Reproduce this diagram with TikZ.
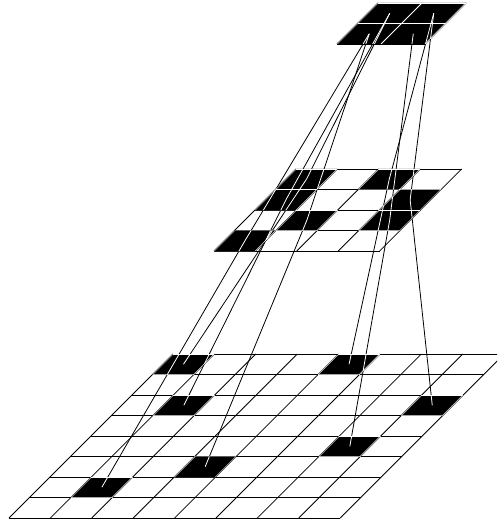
\documentclass[tikz,border=0pt]{standalone}
\begin{document}
\def\CH{20.5}
\tikzset{
  gridline/.style={line width=0.8pt, draw=black},
  link/.style={line width=0.8pt, draw=black},
}
% cell outline as a path fragment: ox, oy, row, col, cell width
\newcommand\cellpath[5]{({#1+#5*#4-\CH*#3},{#2+\CH*#3}) -- ++(#5,0) -- ++(-\CH,\CH) -- ++(-#5,0) -- cycle}
% grid lines: ox, oy, n, cell width
\newcommand\gridlines[4]{%
  \foreach \k in {0,...,#3}{
    \draw[gridline] ({#1-\CH*\k},{#2+\CH*\k}) -- ++({#4*#3},0);
    \draw[gridline] ({#1+#4*\k},{#2}) -- ++({-\CH*#3},{\CH*#3});
  }}
% centres: prefix, ox, oy, n, cell width
\newcommand\centres[5]{%
  \foreach \r in {1,...,#4}{
    \foreach \c in {1,...,#4}{
      \coordinate (#1-\r-\c) at ({#2+#5*(\c-0.5)-\CH*(\r-0.5)},{#3+\CH*(\r-0.5)});
    }}}
\def\TW{44}
\def\MW{41.4}
\def\BW{41.4}
\newcommand\blackcells{%
  \cellpath{378}{3}{0}{0}{\TW} \cellpath{378}{3}{0}{1}{\TW} \cellpath{378}{3}{1}{0}{\TW} \cellpath{378}{3}{1}{1}{\TW}
  \cellpath{296}{169}{0}{0}{\MW} \cellpath{296}{169}{0}{2}{\MW} \cellpath{296}{169}{1}{0}{\MW} \cellpath{296}{169}{1}{3}{\MW}
  \cellpath{296}{169}{2}{1}{\MW} \cellpath{296}{169}{2}{3}{\MW} \cellpath{296}{169}{3}{0}{\MW}
  \cellpath{173}{354}{0}{0}{\BW} \cellpath{173}{354}{0}{4}{\BW} \cellpath{173}{354}{2}{1}{\BW} \cellpath{173}{354}{2}{7}{\BW}
  \cellpath{173}{354}{4}{6}{\BW} \cellpath{173}{354}{5}{3}{\BW} \cellpath{173}{354}{6}{1}{\BW}}
\newcommand\alllines{%
  \gridlines{378}{3}{2}{\TW}
  \gridlines{296}{169}{4}{\MW}
  \gridlines{173}{354}{8}{\BW}
  \draw[link] (T-1-1) -- (M-1-1);
  \draw[link] (T-1-1) -- (M-2-1);
  \draw[link] (T-1-2) -- (M-1-3);
  \draw[link] (T-1-2) -- (M-2-4);
  \draw[link] (T-2-1) -- (M-3-2);
  \draw[link] (T-2-1) -- (M-4-1);
  \draw[link] (T-2-2) -- (M-3-4);
  \draw[link] (M-1-1) -- (B-1-1);
  \draw[link] (M-1-3) -- (B-1-5);
  \draw[link] (M-2-1) -- (B-3-2);
  \draw[link] (M-2-4) -- (B-3-8);
  \draw[link] (M-3-2) -- (B-6-4);
  \draw[link] (M-3-4) -- (B-5-7);
  \draw[link] (M-4-1) -- (B-7-2);
}
\begin{tikzpicture}[x=1pt,y=-1pt]
  \useasboundingbox (0,0) rectangle (497,521);
  \clip (0,0) rectangle (497,521);
  \centres{T}{378}{3}{2}{\TW}
  \centres{M}{296}{169}{4}{\MW}
  \centres{B}{173}{354}{8}{\BW}
  \fill[black] \blackcells;
  \alllines
  \begin{scope}[gridline/.append style={draw=white}, link/.append style={draw=white}]
    \clip \blackcells;
    \alllines
  \end{scope}
\end{tikzpicture}
\end{document}
